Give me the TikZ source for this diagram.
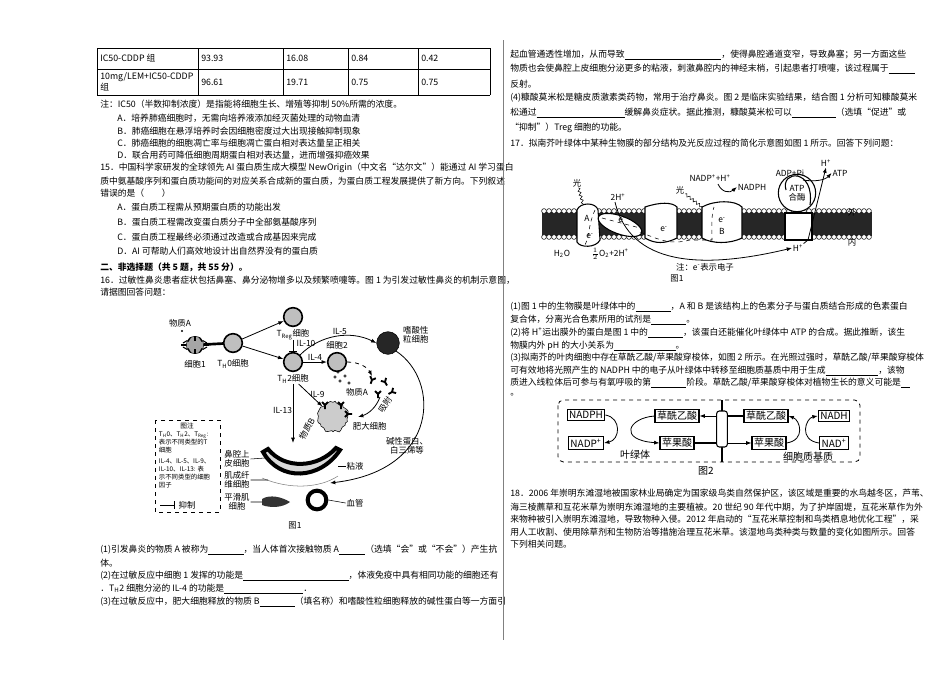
\documentclass[tikz,border=0pt]{standalone}
\usepackage{fontspec}
\setmainfont{Noto Sans CJK SC}
\usetikzlibrary{positioning,arrows.meta,decorations.pathmorphing}
\newcommand{\blank}[1]{\underline{\hspace{#1}}}
\tikzset{
  txt/.style={anchor=west,inner sep=0pt,font=\fontsize{6.6}{8}\selectfont},
  lbl/.style={inner sep=0.5pt,font=\fontsize{6.3}{7}\selectfont,align=center},
  cell/.style={circle,draw,line width=1.2pt,inner sep=0pt,minimum size=14pt,fill=gray!50},
  box/.style={draw,line width=0.8pt,inner sep=1.5pt,font=\fontsize{7.5}{8}\selectfont},
  arr/.style={-{Latex[length=4pt]},line width=0.6pt},
}
\begin{document}
\begin{tikzpicture}[x=0.75pt,y=0.75pt,yscale=-1,xscale=1]
\useasboundingbox (0,0) rectangle (950,672);

% table
\draw[line width=0.4pt] (97,48) -- (490,48) (97,69) -- (490,69) (97,95) -- (490,95);
\foreach \x in {97,198,283,348,418,490} \draw[line width=0.4pt] (\x,48) -- (\x,95);
\node[txt] at (100,58) {IC50-CDDP 组};
\node[txt,align=left] at (100,82) {10mg/LEM+IC50-CDDP\\组};
\foreach \x/\a/\b in {201/93.93/96.61,286/16.08/19.71,351/0.84/0.75,421/0.42/0.75}{
  \node[txt] at (\x,58) {\a};
  \node[txt] at (\x,82) {\b};
}

% left column text
\node[txt] at (100,104) {注：IC50（半数抑制浓度）是指能将细胞生长、增殖等抑制 50\%所需的浓度。};
\node[txt] at (117,118) {A．培养肺癌细胞时，无需向培养液添加经灭菌处理的动物血清};
\node[txt] at (117,131) {B．肺癌细胞在悬浮培养时会因细胞密度过大出现接触抑制现象};
\node[txt] at (117,143) {C．肺癌细胞的细胞凋亡率与细胞凋亡蛋白相对表达量呈正相关};
\node[txt] at (117,155) {D．联合用药可降低细胞周期蛋白相对表达量，进而增强抑癌效果};
\node[txt] at (100,168) {15．中国科学家研发的全球领先 AI 蛋白质生成大模型 NewOrigin（中文名“达尔文”）能通过 AI 学习蛋白};
\node[txt] at (100,181) {质中氨基酸序列和蛋白质功能间的对应关系合成新的蛋白质，为蛋白质工程发展提供了新方向。下列叙述};
\node[txt] at (100,193) {错误的是（\hspace{2em}）};
\node[txt] at (117,207) {A．蛋白质工程需从预期蛋白质的功能出发};
\node[txt] at (117,222) {B．蛋白质工程需改变蛋白质分子中全部氨基酸序列};
\node[txt] at (117,237) {C．蛋白质工程最终必须通过改造或合成基因来完成};
\node[txt] at (117,251) {D．AI 可帮助人们高效地设计出自然界没有的蛋白质};
\node[txt] at (100,267) {\textbf{二、非选择题（共 5 题，共 55 分）。}};
\node[txt] at (100,280) {16．过敏性鼻炎患者症状包括鼻塞、鼻分泌物增多以及频繁喷嚏等。图 1 为引发过敏性鼻炎的机制示意图，};
\node[txt] at (100,292) {请据图回答问题：};

% figure 1 (allergy)
\node[lbl] (matA) at (180,323) {物质A};
\node[circle,draw,fill=gray!70,minimum size=13pt,inner sep=0] (c1) at (195,345) {};
\foreach \a in {0,30,...,330} \draw[line width=0.8pt] (c1.\a) -- ++(\a:5);
\fill (182,331) circle (1.2);
\node[lbl,below=4pt of c1] (c1l) {细胞1};
\node[cell] (th0) at (233,343) {};
\draw[line width=2pt] (c1) -- (th0);
\node[lbl,below=4pt of th0] {T\textsubscript{H}0细胞};
\node[cell] (treg) at (293,317) {};
\node[lbl,below=1pt of treg] (tregl) {T\textsubscript{Reg}细胞};
\node[cell] (th2) at (293,362) {};
\node[lbl,below=1pt of th2] (th2l) {T\textsubscript{H}2细胞};
\draw[arr] (th0) -- (treg);
\draw[arr] (th0) -- (th2);
\draw[-|,line width=0.6pt] (tregl) -- (th2);
\node[lbl] at (306,343) {IL-10};
\node[cell] (c2) at (337,362) {};
\node[lbl,above=1pt of c2] {细胞2};
\draw[arr] (th2) -- node[lbl,above] {IL-4} (c2);
\node[circle,draw,fill=black!85,minimum size=17pt,inner sep=0] (eos) at (388,343) {};
\node[lbl,right=2pt of eos,yshift=6pt] {嗜酸性\\粒细胞};
\draw[arr] (th2.north east) .. controls (320,335) and (350,330) .. node[lbl,above,pos=0.55] {IL-5} (eos.west);
\draw[arr,dashed] (c2.east) .. controls (360,362) and (368,368) .. (372,376);
\foreach \p/\r in {{(372,380)/20},{(385,382)/-30},{(392,392)/60},{(378,394)/0}}
  \draw[line width=1.4pt,shift={\p},rotate=\r] (0,4) -- (0,0) -- (-3,-3) (0,0) -- (3,-3);
\foreach \p in {{(335,377)},{(340,381)},{(345,376)},{(338,372)},{(349,383)}} \draw \p circle (1.2);
\node[lbl] at (357,392) {物质A};
\node[circle,draw,fill=gray!40,minimum size=22pt,inner sep=0,decorate,decoration={random steps,segment length=2pt,amplitude=1pt}] (mast) at (333,417) {};
\foreach \p/\r in {{(325,405)/0},{(341,405)/0},{(348,414)/-90}}
  \draw[line width=1.4pt,shift={\p},rotate=\r] (0,4) -- (0,0) -- (-3,-3) (0,0) -- (3,-3);
\node[lbl,right=3pt of mast,yshift=-7pt] {肥大细胞};
\draw[arr] (th2l) -- node[lbl,pos=0.45,right] {IL-9} (mast.north west);
\draw[arr] (380,397) .. controls (376,408) and (368,414) .. (358,417);
\node[lbl,rotate=55] at (385,405) {吸附};
\node[lbl,rotate=60] at (307,429) {物质B};
\draw[arr] (th2l) -- node[lbl,pos=0.45,left] {IL-13} (293,443);
% nasal mucosa
\draw[line width=3pt,fill=gray!30] (263,452) .. controls (280,482) and (320,480) .. (340,450) -- (336,448) .. controls (318,468) and (285,470) .. (268,449) -- cycle;
\draw[gray] (262,478) .. controls (290,490) and (320,488) .. (338,476);
\node[lbl] (nasal) at (237,459) {鼻腔上\\皮细胞};
\node[lbl] (fib) at (237,480) {肌成纤\\维细胞};
\node[lbl] (smooth) at (237,502) {平滑肌\\细胞};
\draw (nasal.east) -- (265,458) (fib.east) -- (268,480) (smooth.east) -- (262,502);
\fill[black!80] (262,499) .. controls (270,494) and (282,497) .. (290,502) .. controls (282,508) and (270,508) .. (262,505) -- cycle;
\node[circle,draw,line width=3pt,minimum size=14pt,inner sep=0] (vessel) at (317,500) {};
\node[lbl] (vl) at (355,503) {血管};
\draw (vessel.east) -- (vl.west);
\node[lbl] (mucus) at (355,466) {粘液};
\draw (338,466) -- (mucus.west);
\draw[arr] (eos.south east) .. controls (440,380) and (440,470) .. (330,483);
\node[lbl] at (407,446) {碱性蛋白、\\白三烯等};
% legend
\draw[dashed] (155,420) rectangle (220,512);
\node[lbl,align=center,anchor=north,font=\fontsize{5}{6.2}\selectfont] (legt) at (187,422) {图注};
\node[lbl,align=left,anchor=north west,font=\fontsize{4.8}{6}\selectfont] (leg) at (158,431) {T\textsubscript{H}0、T\textsubscript{H}2、T\textsubscript{Reg}:\\表示不同类型的T\\细胞\\[2pt]
IL-4、IL-5、IL-9、\\IL-10、IL-13: 表\\示不同类型的细胞\\因子};
\draw[-|,line width=0.6pt] (160,505) -- (175,505);
\node[lbl,right=2pt of {(175,505)}] {抑制};
\node[lbl] at (295,525) {图1};

% bottom questions left
\node[txt] at (100,550) {(1)引发鼻炎的物质 A 被称为\blank{4em}，当人体首次接触物质 A\blank{3em}（选填“会”或“不会”）产生抗};
\node[txt] at (100,563) {体。};
\node[txt] at (100,576) {(2)在过敏反应中细胞 1 发挥的功能是\blank{12em}，体液免疫中具有相同功能的细胞还有};
\node[txt] at (100,589) {．T\textsubscript{H}2 细胞分泌的 IL-4 的功能是\blank{9em}．};
\node[txt] at (100,602) {(3)在过敏反应中，肥大细胞释放的物质 B\blank{4em}（填名称）和嗜酸性粒细胞释放的碱性蛋白等一方面引};

% right column
\draw[gray] (503,40) -- (503,640);
\node[txt] at (510,55) {起血管通透性增加，从而导致\blank{11em}，使得鼻腔通道变窄，导致鼻塞；另一方面这些};
\node[txt] at (510,69) {物质也会使鼻腔上皮细胞分泌更多的粘液，刺激鼻腔内的神经末梢，引起患者打喷嚏，该过程属于\blank{3em}};
\node[txt] at (510,84) {反射。};
\node[txt] at (510,98) {(4)糠酸莫米松是糖皮质激素类药物，常用于治疗鼻炎。图 2 是临床实验结果，结合图 1 分析可知糠酸莫米};
\node[txt] at (510,113) {松通过\blank{10em}缓解鼻炎症状。据此推测，糠酸莫米松可以\blank{5em}（选填“促进”或};
\node[txt] at (510,128) {“抑制”）Treg 细胞的功能。};
\node[txt] at (510,143) {17．拟南芥叶绿体中某种生物膜的部分结构及光反应过程的简化示意图如图 1 所示。回答下列问题：};

% figure: thylakoid membrane
\fill[black!85] (542,212) rectangle (872,236);
\foreach \x in {544,549,...,870} {\draw[fill=white] (\x,211) circle (2.4); \draw[fill=white] (\x,237) circle (2.4);}
\draw[fill=white,line width=0.8pt] (577,210) .. controls (580,202) and (596,202) .. (598,210) -- (600,240) .. controls (596,248) and (580,248) .. (577,242) -- cycle;
\node[lbl] (pA) at (587,218) {A};
\draw[fill=white,line width=0.8pt,rotate around={20:(620,225)}] (620,225) ellipse (23 and 9);
\draw[fill=white,line width=0.8pt] (645,207) .. controls (660,202) and (672,202) .. (677,207) -- (677,238) .. controls (665,244) and (655,244) .. (645,238) -- cycle;
\draw[fill=white,line width=0.8pt] (702,207) .. controls (715,200) and (735,200) .. (742,207) -- (742,238) .. controls (730,244) and (712,244) .. (702,238) -- cycle;
\node[lbl] (pB) at (722,231) {B};
\node[lbl] at (722,220) {e\textsuperscript{-}};
\node[lbl] at (590,236) {e\textsuperscript{-}};
\node[lbl] at (622,220) {e\textsuperscript{-}};
\node[lbl] at (664,229) {e\textsuperscript{-}};
\draw[dashed] (595,210) .. controls (588,225) and (590,235) .. (585,245);
\draw[dashed] (602,218) -- (640,228) (640,232) .. controls (660,240) and (670,245) .. (690,240) -- (712,240) .. controls (712,230) and (711,215) .. (714,207);
\draw[fill=white,line width=0.8pt] (785,213) rectangle (812,240);
\node[circle,draw,fill=white,line width=0.8pt,minimum size=28pt,inner sep=0,lbl] (atps) at (797,193) {ATP\\合酶};
\draw[line width=0.8pt] (786,190) .. controls (780,170) and (815,168) .. (810,205);
\node[lbl] (lightA) at (577,183) {光};
\draw[decorate,decoration={snake,amplitude=1pt,segment length=3pt}] (lightA) -- (583,204);
\node[lbl] (light2) at (680,190) {光};
\draw[decorate,decoration={snake,amplitude=1pt,segment length=3pt}] (light2) -- (702,207);
\node[lbl] at (618,197) {2H\textsuperscript{+}};
\node[lbl] (nadp) at (710,178) {NADP\textsuperscript{+}+H\textsuperscript{+}};
\node[lbl] (nadph) at (752,187) {NADPH};
\draw[arr] (718,184) .. controls (722,193) and (730,193) .. (nadph.west);
\node[lbl] at (790,173) {ADP+Pi};
\node[lbl] (hout) at (826,163) {H\textsuperscript{+}};
\node[lbl] (atp) at (840,173) {ATP};
\draw[arr] (803,180) .. controls (815,182) and (825,180) .. (atp.west);
\node[lbl] (hin) at (798,248) {H\textsuperscript{+}};
\draw[arr] (hin) -- (808,240) -- (hout.south);
\node[lbl] at (852,212) {外};
\node[lbl] at (852,242) {内};
\node[lbl] at (562,254) {H\textsubscript{2}O};
\node[lbl] at (610,254) {$\frac{1}{2}$O\textsubscript{2}+2H\textsuperscript{+}};
\draw[arr] (615,202) .. controls (630,265) and (700,270) .. (hin.west);
\node[lbl] at (705,267) {注：e\textsuperscript{-}表示电子};
\node[lbl] at (677,278) {图1};

\node[txt] at (510,307) {(1)图 1 中的生物膜是叶绿体中的\blank{4em}，A 和 B 是该结构上的色素分子与蛋白质结合形成的色素蛋白};
\node[txt] at (510,320) {复合体，分离光合色素所用的试剂是\blank{4em}。};
\node[txt] at (510,333) {(2)将 H\textsuperscript{+}运出膜外的蛋白是图 1 中的\blank{4em}，该蛋白还能催化叶绿体中 ATP 的合成。据此推断，该生};
\node[txt] at (510,346) {物膜内外 pH 的大小关系为\blank{7em}。};
\node[txt] at (510,358) {(3)拟南芥的叶肉细胞中存在草酰乙酸/苹果酸穿梭体，如图 2 所示。在光照过强时，草酰乙酸/苹果酸穿梭体};
\node[txt] at (510,371) {可有效地将光照产生的 NADPH 中的电子从叶绿体中转移至细胞质基质中用于生成\blank{6em}，该物};
\node[txt] at (510,383) {质进入线粒体后可参与有氧呼吸的第\blank{4em}阶段。草酰乙酸/苹果酸穿梭体对植物生长的意义可能是\blank{1em}};
\node[txt] at (510,395) {。};

% figure 2
\draw[dashed,rounded corners=4pt,line width=0.6pt] (558,400) rectangle (860,462);
\node[box] (nadph2) at (586,415) {NADPH};
\node[box] (nadpp) at (586,443) {NADP\textsuperscript{+}};
\node[box] (oaaL) at (677,416) {草酰乙酸};
\node[box] (malL) at (677,443) {苹果酸};
\node[box] (oaaR) at (766,416) {草酰乙酸};
\node[box] (malR) at (769,443) {苹果酸};
\node[box] (nadh) at (834,416) {NADH};
\node[box] (nadp2) at (834,443) {NAD\textsuperscript{+}};
\draw[line width=0.8pt] (722,400) -- (722,462);
\node[draw,rounded corners=2pt,fill=white,line width=0.8pt,minimum width=8pt,minimum height=27pt,inner sep=0] (shut) at (722,429) {};
\draw[arr] (shut.west |- oaaL) -- (oaaL.east);
\draw[line width=0.8pt] (malL.east) -- (shut.west |- malL);
\draw[line width=0.8pt] (oaaR.west) -- (shut.east |- oaaR);
\draw[arr] (shut.east |- malR) -- (malR.west);
\draw[arr] (nadph2.east) .. controls (622,418) and (620,440) .. (nadpp.east);
\draw[arr] (oaaL.west) .. controls (628,418) and (618,440) .. (malL.west);
\draw[arr] (malR.east) .. controls (806,440) and (800,420) .. (oaaR.east);
\draw[arr] (nadp2.west) .. controls (798,440) and (806,418) .. (nadh.west);
\node[lbl,font=\fontsize{7.5}{8}\selectfont] at (635,455) {叶绿体};
\node[lbl,font=\fontsize{7.5}{8}\selectfont] at (808,457) {细胞质基质};
\node[lbl,font=\fontsize{7.5}{8}\selectfont] at (706,471) {图2};

\node[txt] at (510,493) {18．2006 年崇明东滩湿地被国家林业局确定为国家级鸟类自然保护区，该区域是重要的水鸟越冬区，芦苇、};
\node[txt] at (510,507) {海三棱藨草和互花米草为崇明东滩湿地的主要植被。20 世纪 90 年代中期，为了护岸固堤，互花米草作为外};
\node[txt] at (510,519) {来物种被引入崇明东滩湿地，导致物种入侵。2012 年启动的“互花米草控制和鸟类栖息地优化工程”，采};
\node[txt] at (510,532) {用人工收割、使用除草剂和生物防治等措施治理互花米草。该湿地鸟类种类与数量的变化如图所示。回答};
\node[txt] at (510,544) {下列相关问题。};
\end{tikzpicture}
\end{document}
